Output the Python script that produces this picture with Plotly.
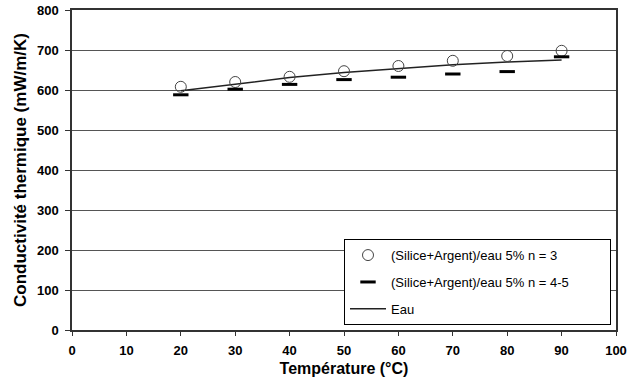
import plotly.graph_objects as go

temps = [20, 30, 40, 50, 60, 70, 80, 90]
n3 = [608, 620, 633, 647, 660, 673, 685, 698]
n45 = [588, 602, 614, 626, 632, 640, 646, 683]
eau = [598, 615, 631, 644, 654, 663, 670, 675]

x_ticks = list(range(0, 101, 10))
y_ticks = list(range(0, 801, 100))

PAD = "\u00a0" * 10

fig = go.Figure()
fig.add_trace(go.Scatter(
    x=temps, y=eau, mode="lines", name="Eau",
    line=dict(color="#222222", width=1.5), legendgroup="c", legendrank=3))
fig.add_trace(go.Scatter(
    x=temps, y=n3, mode="markers", name="(Silice+Argent)/eau 5% n = 3",
    marker=dict(symbol="circle-open", size=11, color="#444444", line=dict(width=1)),
    legendgroup="a", legendrank=1))
fig.add_trace(go.Scatter(
    x=temps, y=n45, mode="markers", name="(Silice+Argent)/eau 5% n = 4-5" + PAD,
    marker=dict(symbol="line-ew", size=11, color="black", line=dict(width=3, color="black")),
    legendgroup="b", legendrank=2))

FAM = "Liberation Sans, Arial, sans-serif"
axis_font = dict(family=FAM, size=13, color="black")

fig.update_layout(
    width=639, height=381,
    margin=dict(l=72, r=23, t=10, b=51),
    paper_bgcolor="white", plot_bgcolor="white",
    font=dict(family=FAM, color="black"),
    showlegend=True,
    legend=dict(
        x=0.5, y=0.284, xanchor="left", yanchor="top",
        bgcolor="white", bordercolor="black", borderwidth=1,
        font=dict(family=FAM, size=13, color="black"),
        traceorder="grouped", tracegroupgap=7,
        itemwidth=36,
    ),
    xaxis=dict(
        range=[0, 100], tickvals=x_ticks, ticktext=[f"<b>{v}</b>" for v in x_ticks],
        showgrid=False, zeroline=False, automargin=False,
        showline=True, linecolor="#333333", linewidth=1.5, mirror=True,
        ticks="outside", ticklen=4, tickcolor="#333333", tickwidth=1,
        ticklabelstandoff=4,
        tickfont=axis_font,
        title=dict(text="<b>Température (°C)</b>", font=dict(family=FAM, size=16, color="black"), standoff=5),
    ),
    yaxis=dict(
        range=[0, 800], tickvals=y_ticks, ticktext=[f"<b>{v}</b>" for v in y_ticks],
        showgrid=True, gridcolor="#555555", gridwidth=1, zeroline=False, automargin=False,
        showline=True, linecolor="#333333", linewidth=1.5, mirror=True,
        ticks="outside", ticklen=5, tickcolor="#333333", tickwidth=1,
        ticklabelstandoff=4,
        tickfont=axis_font,
        title=dict(text="<b>Conductivité thermique (mW/m/K)</b>", font=dict(family=FAM, size=17, color="black"), standoff=6),
    ),
)

fig.write_html("out.html", config={"displayModeBar": False},
               post_script="document.body.style.margin='0';")
